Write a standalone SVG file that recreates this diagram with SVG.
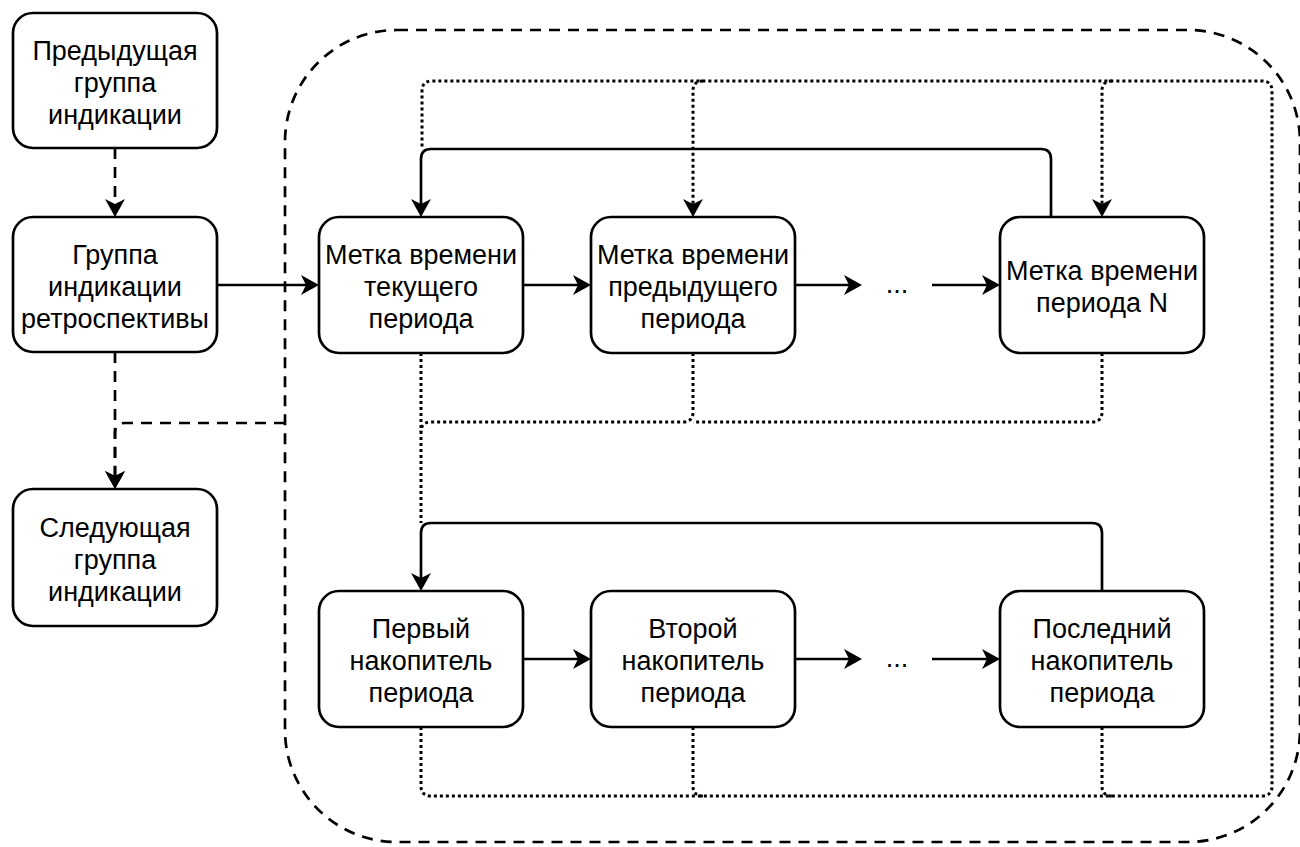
<svg xmlns="http://www.w3.org/2000/svg" width="1300" height="847" viewBox="0 0 1300 847">
<style>
.box{fill:#fff;stroke:#000;stroke-width:2.7}
.t{font-family:"Liberation Sans",Arial,sans-serif;font-size:27px;fill:#000;text-anchor:middle}
.c{fill:none;stroke:#000;stroke-width:2.7}
.dash{stroke-dasharray:11 8}
.dot{stroke-dasharray:3 3;stroke-width:3}
.cont{fill:none;stroke:#000;stroke-width:2.7;stroke-dasharray:11 8}
</style>
<defs>
<marker id="arr" markerUnits="userSpaceOnUse" viewBox="0 0 18 20" refX="8" refY="10" markerWidth="18" markerHeight="20" orient="auto">
<path d="M0,0 L18,10 L0,20 L5,10 z" fill="#000"/>
</marker>
</defs>
<rect id="container" class="cont" x="285" y="30" width="1015" height="812" rx="112" ry="112"/>
<g id="connectors">
<path class="c dash" d="M115,148 V207" marker-end="url(#arr)"/>
<path class="c dash" d="M115,352 V479" marker-end="url(#arr)"/>
<path class="c dash" d="M285,423 H125 Q115,423 115,433 V479" marker-end="url(#arr)"/>
<path class="c" d="M217,285 H309" marker-end="url(#arr)"/>
<path class="c" d="M523,285 H581" marker-end="url(#arr)"/>
<path class="c" d="M795,285 H852" marker-end="url(#arr)"/>
<path class="c" d="M932,285 H990" marker-end="url(#arr)"/>
<path class="c" d="M1051,217 V159 Q1051,149 1041,149 H431 Q421,149 421,159 V207" marker-end="url(#arr)"/>
<path class="c dot" d="M421,727 V786 Q421,796 431,796 H1262 Q1272,796 1272,786 V91 Q1272,81 1262,81 H432 Q422,81 422,91 V149"/>
<path class="c dot" d="M693,727 V786 Q693,796 703,796"/>
<path class="c dot" d="M1102,727 V786 Q1102,796 1112,796"/>
<path class="c dot" d="M703,81 Q693,81 693,91 V207" marker-end="url(#arr)"/>
<path class="c dot" d="M1112,81 Q1102,81 1102,91 V207" marker-end="url(#arr)"/>
<path class="c dot" d="M421,353 V523"/>
<path class="c dot" d="M693,353 V412 Q693,422 683,422 H431 Q421,422 421,432"/>
<path class="c dot" d="M1102,353 V412 Q1102,422 1092,422 H693"/>
<path class="c" d="M1102,591 V533 Q1102,523 1092,523 H431 Q421,523 421,533 V581" marker-end="url(#arr)"/>
<path class="c" d="M523,659 H581" marker-end="url(#arr)"/>
<path class="c" d="M795,659 H852" marker-end="url(#arr)"/>
<path class="c" d="M932,659 H990" marker-end="url(#arr)"/>
<text class="t" x="897" y="293">...</text>
<text class="t" x="897" y="667">...</text>
</g>
<g id="nodeA"><rect class="box" x="13" y="13" width="204" height="135" rx="20"/>
<text class="t" x="115" y="60">Предыдущая</text><text class="t" x="115" y="92">группа</text><text class="t" x="115" y="124">индикации</text></g>
<g id="nodeB"><rect class="box" x="13" y="217" width="204" height="135" rx="20"/>
<text class="t" x="115" y="264">Группа</text><text class="t" x="115" y="296">индикации</text><text class="t" x="115" y="328">ретроспективы</text></g>
<g id="nodeC"><rect class="box" x="13" y="489" width="204" height="137" rx="20"/>
<text class="t" x="115" y="537">Следующая</text><text class="t" x="115" y="569">группа</text><text class="t" x="115" y="601">индикации</text></g>
<g id="nodeM1"><rect class="box" x="319" y="217" width="204" height="136" rx="20"/>
<text class="t" x="421" y="264">Метка времени</text><text class="t" x="421" y="296">текущего</text><text class="t" x="421" y="328">периода</text></g>
<g id="nodeM2"><rect class="box" x="591" y="217" width="204" height="136" rx="20"/>
<text class="t" x="693" y="264">Метка времени</text><text class="t" x="693" y="296">предыдущего</text><text class="t" x="693" y="328">периода</text></g>
<g id="nodeM3"><rect class="box" x="1000" y="217" width="204" height="136" rx="20"/>
<text class="t" x="1102" y="280">Метка времени</text><text class="t" x="1102" y="312">периода N</text></g>
<g id="nodeN1"><rect class="box" x="319" y="591" width="204" height="136" rx="20"/>
<text class="t" x="421" y="638">Первый</text><text class="t" x="421" y="670">накопитель</text><text class="t" x="421" y="702">периода</text></g>
<g id="nodeN2"><rect class="box" x="591" y="591" width="204" height="136" rx="20"/>
<text class="t" x="693" y="638">Второй</text><text class="t" x="693" y="670">накопитель</text><text class="t" x="693" y="702">периода</text></g>
<g id="nodeN3"><rect class="box" x="1000" y="591" width="204" height="136" rx="20"/>
<text class="t" x="1102" y="638">Последний</text><text class="t" x="1102" y="670">накопитель</text><text class="t" x="1102" y="702">периода</text></g>
</svg>
